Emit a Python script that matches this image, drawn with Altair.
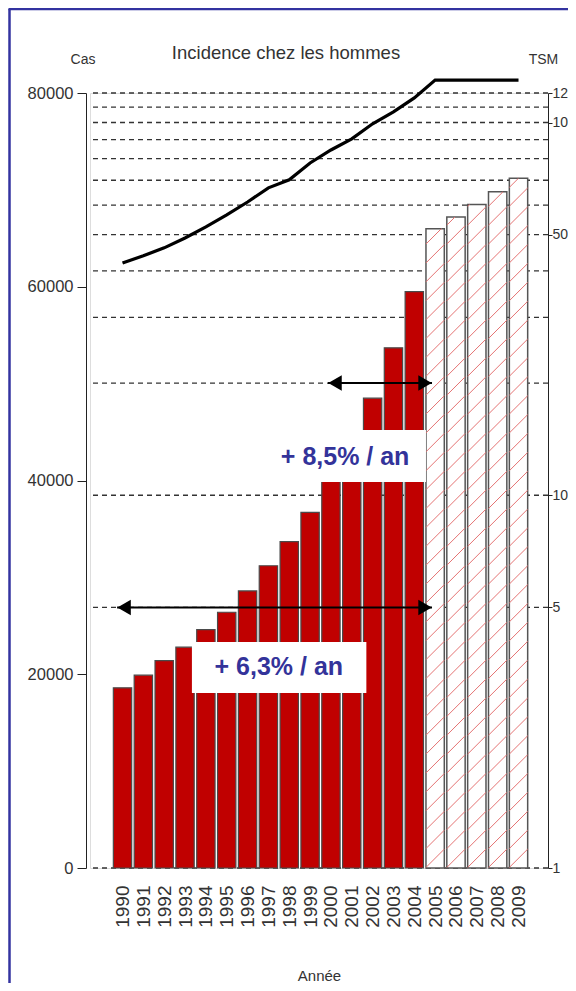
import altair as alt
import pandas as pd
import numpy as np

# ---------------- data ----------------
years = list(range(1990, 2010))
cases = [18600, 19900, 21400, 22800, 24600, 26400, 28600, 31200, 33700, 36700,
         40500, 44300, 48500, 53700, 59500, 66000, 67200, 68500, 69800, 71200]
status = ["observé"] * 15 + ["projeté"] * 5
tsm = [42.0, 43.9, 46.1, 49.0, 52.5, 56.5, 61.2, 66.8, 70.2, 77.9,
       84.4, 90.4, 99.2, 106.8, 116.4, 130, 130, 130, 130, 130]
grid_tsm = [1, 5, 10, 20, 30, 40, 50, 60, 70, 80, 90, 100, 110, 120]
tsm_ticks = [1, 5, 10, 50, 100, 120]
cas_ticks = [0, 20000, 40000, 60000, 80000]
arrow_start = [1999.86, 1989.74]
arrow_end = [2004.85, 2004.85]
arrow_tsm = [20, 5]
labels = ["+ 8,5% / an", "+ 6,3% / an"]
label_x = [2000.68, 1997.5]
label_cas = [42400, 20700]
box_x0 = [1995.64, 1993.33]
box_x1 = [2004.56, 2001.70]
box_y0 = [39850, 18060]
box_y1 = [45210, 23330]

FONT = "Liberation Sans"
TXT = "#333333"
HALF = 0.44

df = pd.DataFrame({"year": years, "cas": cases, "status": status, "tsm": tsm})
df["x0"] = df["year"] - HALF
df["x1"] = df["year"] + HALF
df_obs = df[df.status == "observé"]
df_proj = df[df.status == "projeté"]

# hatch segments (45 degrees on screen) inside projected bars
SLOPE = 2151.0
SPACING = 1950.0
rows = []
for yr, top in zip(df_proj.year, df_proj.cas):
    xl, xr = yr - HALF, yr + HALF
    c = -SLOPE * (xr - xl)
    while c < top:
        xs = max(xl, xl + (0 - c) / SLOPE)
        xe = min(xr, xl + (top - c) / SLOPE)
        if xe > xs:
            rows.append({"hx": xs, "hx2": xe,
                         "hy": c + SLOPE * (xs - xl), "hy2": c + SLOPE * (xe - xl)})
        c += SPACING
df_hatch = pd.DataFrame(rows)

df_arrows = pd.DataFrame({"a0": arrow_start, "a1": arrow_end, "t": arrow_tsm})
df_labels = pd.DataFrame({"lab": labels, "lx": label_x, "ly": label_cas,
                          "bx0": box_x0, "bx1": box_x1, "by0": box_y0, "by1": box_y1})
df_grid = pd.DataFrame({"g": grid_tsm})

# ---------------- scales ----------------
xs_ = alt.Scale(domain=[1988.44, 2010.415], nice=False, zero=False)
cas_s = alt.Scale(domain=[0, 80000], nice=False, zero=True)
tsm_s = alt.Scale(type="log", domain=[1, 120], nice=False)

x_axis = alt.Axis(values=years, format="d", labelAngle=270, domain=False, ticks=False,
                  labelPadding=17, labelFontSize=19, labelColor=TXT,
                  labelFont=FONT, grid=False, title="Année", titleFont=FONT,
                  titleFontSize=15, titleFontWeight="normal", titleColor=TXT,
                  titleY=107, titleBaseline="middle", labelOverlap=False)
cas_axis = alt.Axis(values=cas_ticks, format="d", orient="left", offset=4, tickSize=9,
                    labelPadding=4, labelFontSize=16.5, labelColor=TXT, labelFont=FONT,
                    domainColor="#222", tickColor="#222", grid=False,
                    title="Cas", titleAngle=0, titleX=-3.5, titleY=-34,
                    titleAlign="center", titleBaseline="middle", titleFont=FONT,
                    titleFontSize=14, titleFontWeight="normal", titleColor=TXT)
tsm_axis = alt.Axis(values=tsm_ticks, format="d", orient="right", tickSize=4,
                    labelPadding=0, labelFontSize=14, labelColor=TXT, labelFont=FONT,
                    domainColor="#222", tickColor="#222", grid=False,
                    title="TSM", titleAngle=0, titleX=-5, titleY=-34,
                    titleAlign="center", titleBaseline="middle", titleFont=FONT,
                    titleFontSize=14, titleFontWeight="normal", titleColor=TXT)


def X(field):
    return alt.X(field, type="quantitative", scale=xs_, axis=x_axis)


# ---------------- layers ----------------
grid = alt.Chart(df_grid).mark_rule(color="#333", strokeWidth=1.3, strokeDash=[5, 4]).encode(
    y=alt.Y("g:Q", scale=tsm_s, axis=tsm_axis)
)
bars_obs = alt.Chart(df_obs).mark_rect(fill="#c00000", stroke="#4a4a4a", strokeWidth=1.2).encode(
    x=X("x0"),
    x2="x1:Q",
    y=alt.Y("cas:Q", scale=cas_s, axis=cas_axis),
    y2=alt.datum(0),
)
bars_proj = alt.Chart(df_proj).mark_rect(fill="white", stroke="#555", strokeWidth=1.5).encode(
    x=X("x0"),
    x2="x1:Q",
    y=alt.Y("cas:Q", scale=cas_s, axis=None),
    y2=alt.datum(0),
)
hatch = alt.Chart(df_hatch).mark_rule(color="#e57373", strokeWidth=1).encode(
    x=X("hx"), x2="hx2:Q",
    y=alt.Y("hy:Q", scale=cas_s, axis=None), y2="hy2:Q",
)
boxes = alt.Chart(df_labels).mark_rect(fill="white").encode(
    x=X("bx0"), x2="bx1:Q",
    y=alt.Y("by0:Q", scale=cas_s, axis=None), y2="by1:Q",
)
texts = alt.Chart(df_labels).mark_text(font=FONT, fontSize=25, fontWeight="bold",
                                       color="#33339a").encode(
    x=X("lx"),
    y=alt.Y("ly:Q", scale=cas_s, axis=None),
    text="lab:N",
)
line = alt.Chart(df).mark_line(color="black", strokeWidth=3.2).encode(
    x=X("year"),
    y=alt.Y("tsm:Q", scale=tsm_s, axis=None),
)
arrow_line = alt.Chart(df_arrows).mark_rule(color="black", strokeWidth=2).encode(
    x=X("a0"), x2="a1:Q",
    y=alt.Y("t:Q", scale=tsm_s, axis=None),
)
head_r = alt.Chart(df_arrows).mark_point(shape="triangle-right", filled=True, size=240,
                                         color="black", opacity=1, xOffset=-7).encode(
    x=X("a1"),
    y=alt.Y("t:Q", scale=tsm_s, axis=None),
)
head_l = alt.Chart(df_arrows).mark_point(shape="triangle-left", filled=True, size=240,
                                         color="black", opacity=1, xOffset=7).encode(
    x=X("a0"),
    y=alt.Y("t:Q", scale=tsm_s, axis=None),
)
title = alt.Chart(pd.DataFrame({"t": ["Incidence chez les hommes"]})).mark_text(
    font=FONT, fontSize=18.5, color=TXT, baseline="middle", align="center"
).encode(text="t:N", x=alt.value(196), y=alt.value(-40))

border_l = alt.Chart(pd.DataFrame({"k": [0]})).mark_rule(color="#3333a0", strokeWidth=2.5).encode(
    x=alt.value(-80.5), y=alt.value(-84), y2=alt.value(890))
border_t = alt.Chart(pd.DataFrame({"k": [0]})).mark_rule(color="#3333a0", strokeWidth=2.5).encode(
    x=alt.value(-81.5), x2=alt.value(478), y=alt.value(-84))

chart = alt.layer(
    grid, bars_obs, bars_proj, hatch, boxes, texts,
    line, arrow_line, head_r, head_l, title, border_l, border_t
).resolve_scale(y="independent").properties(
    width=458, height=775,
    autosize=alt.AutoSizeParams(type="none"),
    padding={"left": 82, "top": 85, "right": 20, "bottom": 115},
).configure_view(stroke=None).configure(background="white")

chart.save("out.html", embed_options={"renderer": "svg", "actions": False})
